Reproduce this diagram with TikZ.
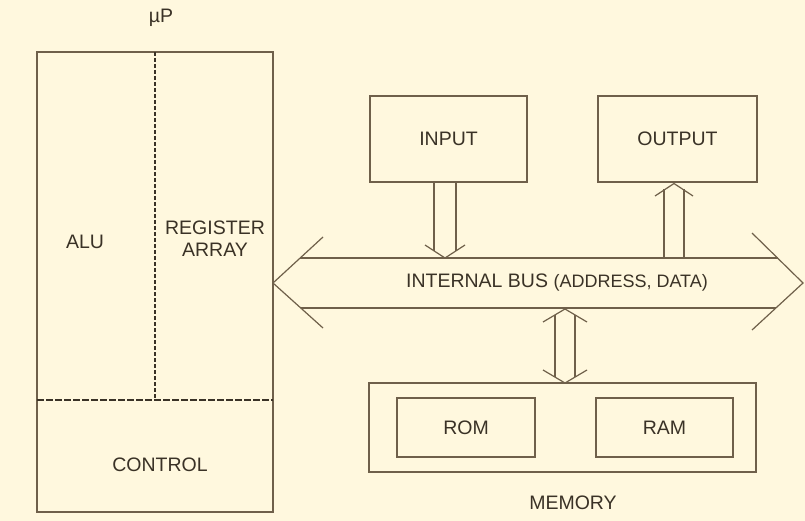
\documentclass[tikz,border=0pt]{standalone}
\usepackage{fontspec}
\setmainfont{Liberation Sans}
\definecolor{bg}{HTML}{FFF8DE}
\definecolor{ln}{HTML}{6F604A}
\definecolor{tx}{HTML}{3A3226}
\tikzset{
  box/.style={draw=ln, line width=1.3pt, inner sep=0pt},
  lbl/.style={text=tx, font=\fontsize{19.5}{23}\selectfont, inner sep=0pt, align=center},
  arr/.style={draw=ln, line width=1.2pt, line join=miter},
  sep/.style={draw=tx, line width=1.2pt, dash pattern=on 4pt off 2pt},
  septhick/.style={draw=tx, line width=2pt, dash pattern=on 7pt off 2pt}
}
\begin{document}
\begin{tikzpicture}[x=1pt,y=-1pt]
\useasboundingbox (0,0) rectangle (805,521);
\fill[bg] (0,0) rectangle (805,521);

% CPU block
\node[box, minimum width=236pt, minimum height=460pt] (cpu) at (155,282) {};
\node[lbl] (mup) at (161,18) {µP};
\coordinate (vtop) at (155,52);
\coordinate (vbot) at (155,400);
\coordinate (hl) at (37,400);
\coordinate (hr) at (273,400);
\draw[sep] (vtop) -- (vbot);
\draw[septhick] (hl) -- (hr);
\node[lbl] (alu) at (85,242) {ALU};
\node[lbl] (reg) at (215,239) {REGISTER\\[-1pt]ARRAY};
\node[lbl] (ctrl) at (160,465) {CONTROL};

% I/O
\node[box, minimum width=157pt, minimum height=86pt, lbl, draw=ln] (input) at (448.5,139) {INPUT};
\node[box, minimum width=159pt, minimum height=86pt, lbl, draw=ln] (output) at (677.5,139) {OUTPUT};

% Bus
\coordinate (bl) at (273,283);
\coordinate (blu) at (323,237);
\coordinate (bld) at (323,328);
\coordinate (br) at (803,283);
\coordinate (bru) at (752,233);
\coordinate (brd) at (752,330);
\coordinate (bt1) at (300,258);
\coordinate (bt2) at (777.5,258);
\coordinate (bb1) at (301,308);
\coordinate (bb2) at (776,308);
\draw[arr] (blu) -- (bl) -- (bld);
\draw[arr] (bru) -- (br) -- (brd);
\draw[arr] (bt1) -- (bt2);
\draw[arr] (bb1) -- (bb2);
\node[lbl] (bus) at (557,283) {INTERNAL BUS {\fontsize{18}{22}\selectfont(ADDRESS, DATA)}};

% Input arrow (down)
\coordinate (iL) at (434,182);
\coordinate (iR) at (456,182);
\coordinate (iLe) at (434,250.85);
\coordinate (iRe) at (456,250.85);
\coordinate (iwl) at (425,245);
\coordinate (iwr) at (465,245);
\coordinate (itip) at (445,258);
\draw[arr] (iL) -- (iLe);
\draw[arr] (iR) -- (iRe);
\draw[arr] (iwl) -- (itip) -- (iwr);

% Output arrow (up)
\coordinate (oL) at (664,258);
\coordinate (oR) at (684,258);
\coordinate (oLe) at (664,189.3);
\coordinate (oRe) at (684,189.3);
\coordinate (owl) at (655,196);
\coordinate (owr) at (693,196);
\coordinate (otip) at (674,183.5);
\draw[arr] (oL) -- (oLe);
\draw[arr] (oR) -- (oRe);
\draw[arr] (owl) -- (otip) -- (owr);

% Memory
\node[box, minimum width=387pt, minimum height=89pt] (mem) at (562.5,427.5) {};
\node[box, minimum width=138pt, minimum height=59pt, lbl, draw=ln] (rom) at (466,427.5) {ROM};
\node[box, minimum width=137pt, minimum height=59pt, lbl, draw=ln] (ram) at (664.5,427.5) {RAM};
\node[lbl] (memlbl) at (573,503) {MEMORY};

% Memory arrow (double)
\coordinate (mtt) at (565,309);
\coordinate (mtl) at (543,322);
\coordinate (mtr) at (587,322);
\coordinate (mbt) at (565,383);
\coordinate (mbl) at (543,370);
\coordinate (mbr) at (587,370);
\coordinate (mL1) at (555,314.9);
\coordinate (mL2) at (555,377.1);
\coordinate (mR1) at (575,314.9);
\coordinate (mR2) at (575,377.1);
\draw[arr] (mtl) -- (mtt) -- (mtr);
\draw[arr] (mbl) -- (mbt) -- (mbr);
\draw[arr] (mL1) -- (mL2);
\draw[arr] (mR1) -- (mR2);
\end{tikzpicture}
\end{document}
